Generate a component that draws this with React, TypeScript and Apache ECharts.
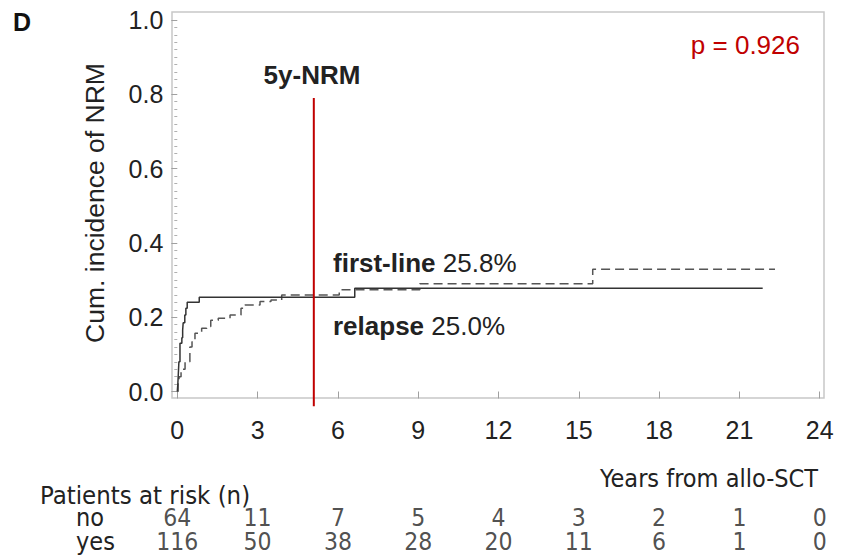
import React, { useEffect, useRef } from "react";
import * as echarts from "echarts";

// Cumulative incidence curves: [years, value]
const noCurve: [number, number][] = [
  [0, 0], [0.02, 0.02], [0.04, 0.05], [0.06, 0.08], [0.1, 0.13], [0.17, 0.145],
  [0.2, 0.165], [0.22, 0.185], [0.28, 0.206], [0.32, 0.224], [0.37, 0.24],
  [0.82, 0.254], [6.63, 0.278], [21.87, 0.278],
];
const yesCurve: [number, number][] = [
  [0, 0], [0.03, 0.02], [0.065, 0.04], [0.14, 0.06], [0.29, 0.08], [0.47, 0.12],
  [0.55, 0.134], [0.66, 0.157], [0.91, 0.17], [1.1, 0.175], [1.25, 0.192],
  [1.53, 0.197], [1.97, 0.206], [2.38, 0.224], [2.53, 0.233], [3.09, 0.242],
  [3.5, 0.246], [3.9, 0.26], [6.05, 0.274], [9.06, 0.29], [15.52, 0.329],
  [22.33, 0.329],
];

const riskTimes = [0, 3, 6, 9, 12, 15, 18, 21, 24];
const riskNo = [64, 11, 7, 5, 4, 3, 2, 1, 0];
const riskYes = [116, 50, 38, 28, 20, 11, 6, 1, 0];
const riskRows = ["no", "yes"];

const markerYear = 5.1;
const markerLine: [number, number][] = [[markerYear, 0.79], [markerYear, -0.04]];

const FONT = "Liberation Sans, Arial, sans-serif";
const COND = "DejaVu Sans Condensed, DejaVu Sans, sans-serif";

export default function App() {
  const ref = useRef<HTMLDivElement>(null);
  useEffect(() => {
    if (!ref.current) return;
    const chart = echarts.init(ref.current, undefined, { renderer: "svg" });
    const riskData: any[] = [];
    riskTimes.forEach((t, i) => {
      riskData.push([t, "no", riskNo[i]]);
      riskData.push([t, "yes", riskYes[i]]);
    });
    const gl = 177.3;
    const gr = 21.3;
    chart.setOption({
      animation: false,
      backgroundColor: "#fff",
      grid: [
        { left: gl, right: gr, top: 20, bottom: 166.5 },
        { left: gl, right: gr, top: 505, height: 48 },
      ],
      xAxis: [
        {
          type: "value", min: 0, max: 24, interval: 3, offset: 7,
          axisLine: { show: false },
          axisTick: { show: true, length: 7, lineStyle: { color: "#a0a0a0", width: 1 } },
          axisLabel: { margin: 19, fontSize: 25, color: "#222", fontFamily: FONT },
          splitLine: { show: false },
        },
        { type: "value", min: 0, max: 24, gridIndex: 1, show: false },
      ],
      yAxis: [
        {
          type: "value", min: 0, max: 1, interval: 0.2, offset: 5,
          axisLine: { show: false },
          axisTick: { show: true, length: 6, lineStyle: { color: "#a0a0a0", width: 1 } },
          minorTick: { show: true, splitNumber: 10, length: 3, lineStyle: { color: "#b0b0b0", width: 1 } },
          axisLabel: { margin: 9, fontSize: 25, color: "#222", fontFamily: FONT, formatter: (v: number) => v.toFixed(1) },
          splitLine: { show: false },
        },
        {
          type: "category", gridIndex: 1, data: riskRows, inverse: true,
          axisLine: { show: false }, axisTick: { show: false },
          axisLabel: {
            interval: 0, align: "left", margin: gl - 76, fontSize: 25, lineHeight: 22,
            color: "#222", fontFamily: COND,
          },
        },
      ],
      series: [
        {
          name: "no", type: "line", step: "end", data: noCurve, showSymbol: false, symbol: "none",
          lineStyle: { color: "#333", width: 1.5 }, z: 3,
        },
        {
          name: "yes", type: "line", step: "end", data: yesCurve, showSymbol: false, symbol: "none",
          lineStyle: { color: "#555", width: 1.5, type: [9, 5] }, z: 2,
        },
        {
          name: "5y-NRM", type: "line", data: markerLine, showSymbol: false, symbol: "none", clip: false,
          lineStyle: { color: "#c00000", width: 2 }, z: 4,
        },
        {
          name: "risk", type: "scatter", xAxisIndex: 1, yAxisIndex: 1, data: riskData,
          symbolSize: 1, itemStyle: { color: "transparent" },
          label: {
            show: true, position: "inside", fontSize: 24.5, lineHeight: 22, color: "#222", fontFamily: COND,
            formatter: (p: any) => String(p.value[2]),
          },
        },
      ],
      graphic: [
        {
          type: "rect", shape: { x: 172, y: 12, width: 652, height: 386 }, silent: true,
          style: { fill: "none", stroke: "#c8c8c8", lineWidth: 1.5 }, z: 0,
        },
        { type: "text", x: 22, y: 22, style: { text: "D", font: `bold 25px ${FONT}`, fill: "#111", align: "center", verticalAlign: "middle" } },
        {
          type: "text", x: 95, y: 203, rotation: Math.PI / 2,
          style: { text: "Cum. incidence of NRM", font: `26.5px ${FONT}`, fill: "#222", align: "center", verticalAlign: "middle" },
        },
        { type: "text", x: 312, y: 75, style: { text: "5y-NRM", font: `bold 26px ${FONT}`, fill: "#222", align: "center", verticalAlign: "middle" } },
        { type: "text", x: 800, y: 45, style: { text: "p = 0.926", font: `26px ${FONT}`, fill: "#c00000", align: "right", verticalAlign: "middle" } },
        {
          type: "text", x: 333, y: 263,
          style: {
            text: "{b|first-line} 25.8%", font: `26px ${FONT}`, fill: "#222", verticalAlign: "middle",
            rich: { b: { fontWeight: "bold", fontSize: 26, fontFamily: FONT, fill: "#222" } } as any,
          },
        },
        {
          type: "text", x: 333, y: 326,
          style: {
            text: "{b|relapse} 25.0%", font: `26px ${FONT}`, fill: "#222", verticalAlign: "middle",
            rich: { b: { fontWeight: "bold", fontSize: 26, fontFamily: FONT, fill: "#222" } } as any,
          },
        },
        { type: "text", x: 818, y: 478, style: { text: "Years from allo-SCT", font: `25px ${COND}`, fill: "#222", align: "right", verticalAlign: "middle" } },
        { type: "text", x: 40, y: 495, style: { text: "Patients at risk (n)", font: `25.5px ${COND}`, fill: "#222", align: "left", verticalAlign: "middle" } },
      ],
    });
    return () => chart.dispose();
  }, []);
  return <div ref={ref} style={{ width: 841, height: 558, position: "absolute", left: 0, top: 0 }} />;
}
